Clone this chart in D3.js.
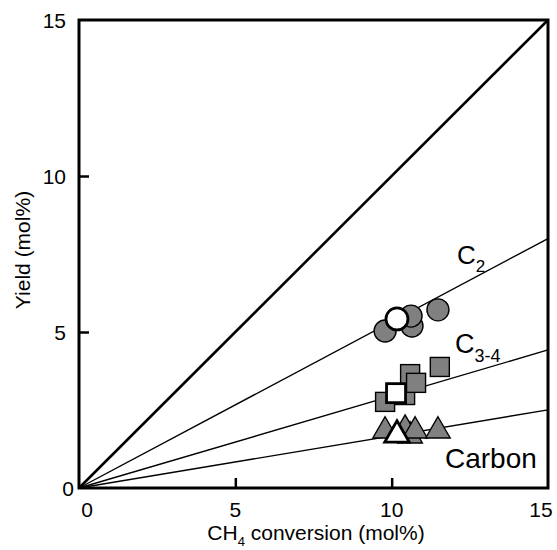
<!DOCTYPE html>
<html><head><meta charset="utf-8">
<script src="https://cdn.jsdelivr.net/npm/d3@7/dist/d3.min.js"></script>
<style>body{margin:0;background:#fff}svg{display:block;font-family:"Liberation Sans",Arial,sans-serif}</style>
</head><body>
<svg id="c" width="557" height="550"></svg>
<script>
const xTicks = [0, 5, 10, 15];
const yTicks = [0, 5, 10, 15];
// fitted line slopes (yield / conversion)
const lineNames = ["diagonal", "C2", "C3-4", "Carbon"];
const lineSlopes = [1, 0.533, 0.295, 0.167];
// C2 (circles)
const c2X = [9.79, 10.65, 10.62, 11.48];
const c2Y = [5.03, 5.19, 5.51, 5.71];
const c2OpenX = [10.17];
const c2OpenY = [5.42];
// C3-4 (squares)
const c34X = [9.79, 10.43, 10.59, 10.78, 11.54];
const c34Y = [2.76, 2.98, 3.65, 3.37, 3.88];
const c34OpenX = [10.14];
const c34OpenY = [3.04];
// Carbon (triangles)
const carbX = [9.79, 10.59, 10.43, 10.75, 11.48];
const carbY = [1.83, 1.67, 1.89, 1.83, 1.83];
const carbOpenX = [10.17];
const carbOpenY = [1.70];

const svg = d3.select("#c");
const L = 79, R = 548, T = 20, B = 488;
const x = d3.scaleLinear().domain([0, 15]).range([L, R]);
const y = d3.scaleLinear().domain([0, 15]).range([B, T]);

// fit lines
const lg = svg.append("g");
lineSlopes.forEach((s, i) => {
  const xe = Math.min(15, 15 / s);
  lg.append("line")
    .attr("x1", x(0)).attr("y1", y(0))
    .attr("x2", x(xe)).attr("y2", y(s * xe))
    .attr("stroke", "#000")
    .attr("stroke-width", i === 0 ? 2.6 : 1.4);
});

// axes (ticks inward)
const xAxis = d3.axisBottom(x).tickValues(xTicks.slice(1, 3)).tickSize(-10).tickFormat("");
svg.append("g").attr("transform", `translate(0,${B})`).call(xAxis)
  .call(g => { g.select(".domain").remove(); g.selectAll("line").attr("stroke-width", 2.5); });
const yAxis = d3.axisLeft(y).tickValues(yTicks.slice(1, 3)).tickSize(-10).tickFormat("");
svg.append("g").attr("transform", `translate(${L},0)`).call(yAxis)
  .call(g => { g.select(".domain").remove(); g.selectAll("line").attr("stroke-width", 2.5); });

// frame
svg.append("rect").attr("x", L).attr("y", T).attr("width", R - L).attr("height", B - T)
  .attr("fill", "none").attr("stroke", "#000").attr("stroke-width", 3);

// tick labels
const xl = svg.append("g").attr("font-size", 21).attr("text-anchor", "middle");
xTicks.forEach(v => {
  const off = v === 0 ? 8 : (v === 15 ? -7 : 0);
  xl.append("text").attr("x", x(v) + off).attr("y", B + 29).text(v);
});
const yl = svg.append("g").attr("font-size", 21).attr("text-anchor", "end");
yTicks.forEach(v => {
  yl.append("text").attr("x", L - 13 + (v === 0 ? 8 : 0)).attr("y", y(v) + 8).text(v);
});

// axis titles
const xt = svg.append("text").attr("x", 316).attr("y", 540).attr("font-size", 21).attr("text-anchor", "middle");
xt.append("tspan").text("CH");
xt.append("tspan").attr("font-size", 13).attr("dy", 6).text("4");
xt.append("tspan").attr("dy", -6).text(" conversion (mol%)");
svg.append("text").attr("transform", `translate(30,250) rotate(-90)`)
  .attr("font-size", 21).attr("text-anchor", "middle").text("Yield (mol%)");

// series labels
const t1 = svg.append("text").attr("x", 457).attr("y", 264).attr("font-size", 26);
t1.append("tspan").text("C");
t1.append("tspan").attr("font-size", 17).attr("dy", 8).text("2");
const t2 = svg.append("text").attr("x", 455).attr("y", 353).attr("font-size", 27);
t2.append("tspan").text("C");
t2.append("tspan").attr("font-size", 18).attr("dy", 9).text("3-4");
svg.append("text").attr("x", 445).attr("y", 468).attr("font-size", 28).text("Carbon");

// markers
const gray = "#808080";
const mg = svg.append("g");
function circles(xs, ys, fill, sw) {
  mg.selectAll(null).data(xs.map((v, i) => [v, ys[i]])).enter().append("circle")
    .attr("cx", d => x(d[0])).attr("cy", d => y(d[1])).attr("r", 11)
    .attr("fill", fill).attr("stroke", "#000").attr("stroke-width", sw);
}
function squares(xs, ys, fill, sw) {
  const s = 19;
  mg.selectAll(null).data(xs.map((v, i) => [v, ys[i]])).enter().append("rect")
    .attr("x", d => x(d[0]) - s / 2).attr("y", d => y(d[1]) - s / 2)
    .attr("width", s).attr("height", s)
    .attr("fill", fill).attr("stroke", "#000").attr("stroke-width", sw);
}
const tri = d3.symbol().type(d3.symbolTriangle).size(260);
function triangles(xs, ys, fill, sw) {
  mg.selectAll(null).data(xs.map((v, i) => [v, ys[i]])).enter().append("path")
    .attr("d", tri)
    .attr("transform", d => `translate(${x(d[0])},${y(d[1])})`)
    .attr("fill", fill).attr("stroke", "#000").attr("stroke-width", sw);
}
circles(c2X, c2Y, gray, 1.4);
circles(c2OpenX, c2OpenY, "#fff", 2.8);
squares(c34X, c34Y, gray, 1.4);
squares(c34OpenX, c34OpenY, "#fff", 2.8);
triangles(carbX, carbY, gray, 1.4);
triangles(carbOpenX, carbOpenY, "#fff", 2.8);
</script>
</body></html>
